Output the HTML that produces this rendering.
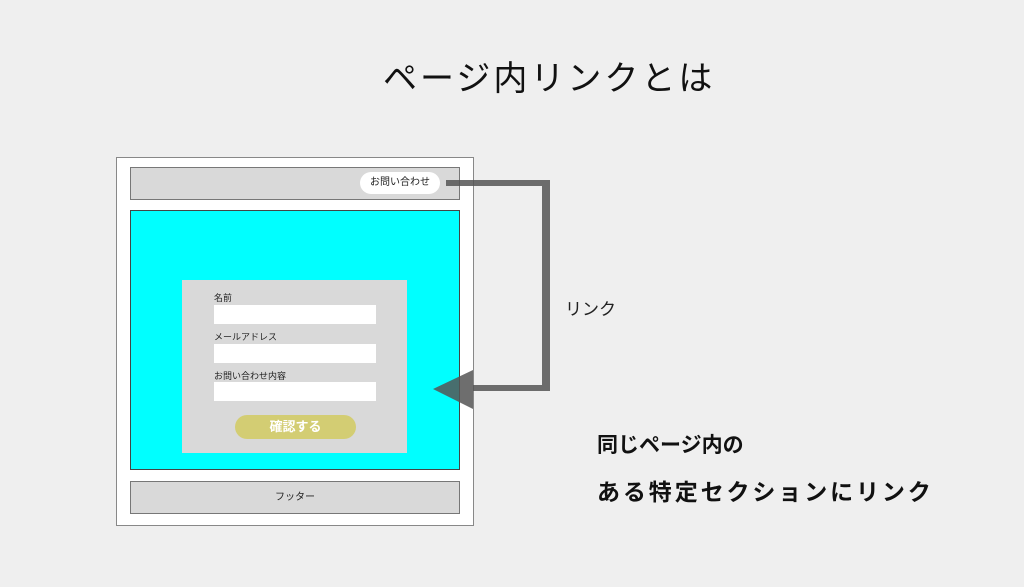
<!DOCTYPE html>
<html><head><meta charset="utf-8"><style>
body{margin:0;width:1024px;height:587px;background:#efefef;position:relative;overflow:hidden;font-family:"Liberation Sans","Noto Sans CJK JP",sans-serif;color:#222}
.a{position:absolute;box-sizing:border-box}
.t{position:absolute;white-space:nowrap}
</style></head><body>
<div class="t" style="left:383px;top:51px;font-size:34px;letter-spacing:3px;color:#111">ページ内リンクとは</div>
<div class="a" style="left:116px;top:157px;width:358px;height:369px;background:#fff;border:1px solid #888"></div>
<div class="a" style="left:130px;top:167px;width:330px;height:33px;background:#d9d9d9;border:1px solid #777"></div>
<div class="a" style="left:360px;top:172px;width:80px;height:22px;background:#fff;border-radius:11px;font-size:10px;text-align:center;line-height:22px">お問い合わせ</div>
<div class="a" style="left:130px;top:210px;width:330px;height:260px;background:#00ffff;border:1px solid #444"></div>
<div class="a" style="left:182px;top:280px;width:225px;height:173px;background:#d9d9d9"></div>
<div class="t" style="left:214px;top:291px;font-size:9px">名前</div>
<div class="a" style="left:214px;top:305px;width:162px;height:19px;background:#fff"></div>
<div class="t" style="left:214px;top:330px;font-size:9px">メールアドレス</div>
<div class="a" style="left:214px;top:344px;width:162px;height:19px;background:#fff"></div>
<div class="t" style="left:214px;top:369px;font-size:9px">お問い合わせ内容</div>
<div class="a" style="left:214px;top:382px;width:162px;height:19px;background:#fff"></div>
<div class="a" style="left:235px;top:415px;width:121px;height:24px;background:#d3cd73;border-radius:12px;color:#fff;font-weight:bold;font-size:13px;text-align:center;line-height:24px">確認する</div>
<div class="a" style="left:130px;top:481px;width:330px;height:33px;background:#d9d9d9;border:1px solid #777;font-size:10px;text-align:center;line-height:31px">フッター</div>
<svg class="a" style="left:0;top:0" width="1024" height="587">
<g fill="#555" fill-opacity="0.85">
<rect x="446" y="180" width="104" height="6"/>
<rect x="542" y="186" width="8" height="205"/>
<rect x="473" y="385" width="69" height="6"/>
<polygon points="433,389 473,370 473,409"/>
</g></svg>
<div class="t" style="left:565px;top:295px;font-size:17px">リンク</div>
<div class="t" style="left:597px;top:429px;font-size:21px;font-weight:bold;color:#111">同じページ内の</div>
<div class="t" style="left:597px;top:473px;font-size:23px;font-weight:bold;color:#111;letter-spacing:2.9px">ある特定セクションにリンク</div>
</body></html>
